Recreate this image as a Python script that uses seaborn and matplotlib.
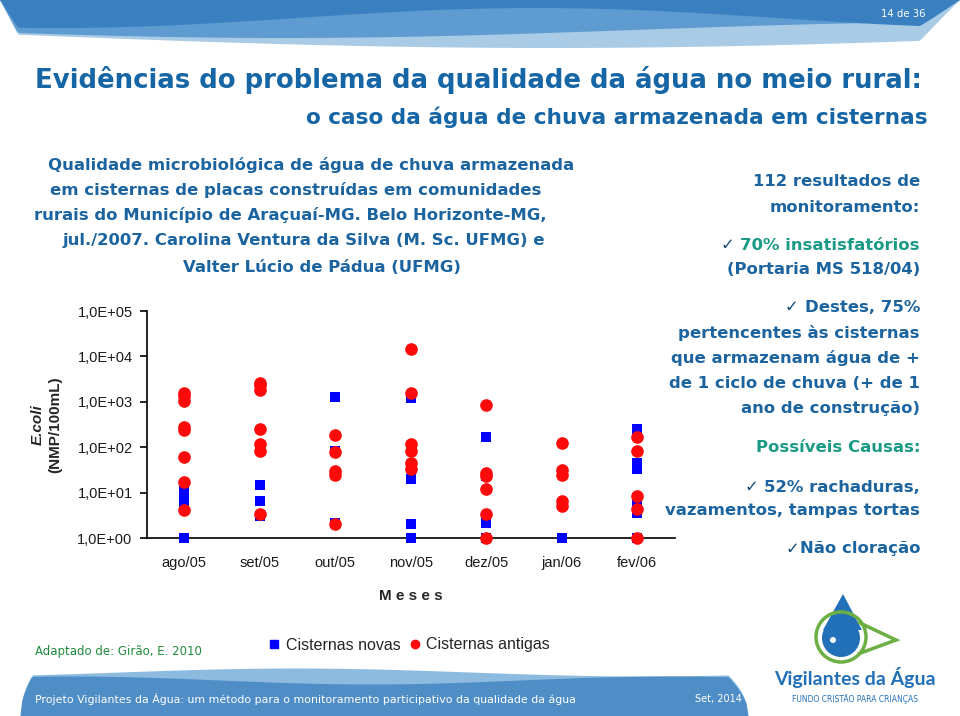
import numpy as np
import pandas as pd
import seaborn as sns
import matplotlib
matplotlib.use('Agg')
import matplotlib.pyplot as plt
from matplotlib import font_manager
from matplotlib.lines import Line2D
from matplotlib.patches import Circle, Polygon
from matplotlib.ticker import FixedLocator, FuncFormatter, NullLocator

# --- data (E. coli, NMP/100mL) ---
months = ['ago/05', 'set/05', 'out/05', 'nov/05', 'dez/05', 'jan/06', 'fev/06']

novas = [
    [13, 9, 6, 1],
    [14.5, 6.5, 3.0],
    [1280, 82, 2.1],
    [1230, 20, 2.0, 1],
    [170, 23, 2.1, 1],
    [1],
    [247, 46, 33, 6.5, 3.6, 1],
]
antigas = [
    [1590, 1340, 1040, 280, 240, 62, 17, 4.1],
    [2650, 2300, 1820, 247, 116, 82, 3.3],
    [182, 78, 30, 24, 2.0],
    [14800, 1590, 116, 82, 46, 33],
    [840, 27.5, 23, 12.3, 3.3, 1],
    [122, 31.5, 25, 6.5, 5.0],
    [170, 82, 8.4, 4.3, 1],
]

left_lines = [
    'Qualidade microbiológica de água de chuva armazenada',
    'em cisternas de placas construídas em comunidades',
    'rurais do Município de Araçuaí-MG. Belo Horizonte-MG,',
    'jul./2007. Carolina Ventura da Silva (M. Sc. UFMG) e',
    'Valter Lúcio de Pádua (UFMG)',
]

BLUE_TXT = '#1b64a0'
TEAL = '#1b9a86'
TITLE_BLUE = '#1666a6'


def to_long(values, kind):
    rows = [(m, v, kind) for m, vals in zip(months, values) for v in vals]
    return pd.DataFrame(rows, columns=['mes', 'valor', 'tipo'])


df_novas = to_long(novas, 'Cisternas novas')
df_antigas = to_long(antigas, 'Cisternas antigas')

sns.set_theme(style='white')
names = {f.name for f in font_manager.fontManager.ttflist}
arial = 'Liberation Sans' if 'Liberation Sans' in names else 'DejaVu Sans'
plt.rcParams['font.family'] = ['DejaVu Sans']

fig = plt.figure(figsize=(9.6, 7.16), dpi=100)
fig.patch.set_facecolor('white')

# background layer in pixel coordinates
bg = fig.add_axes([0, 0, 1, 1], zorder=0)
bg.set_xlim(0, 960)
bg.set_ylim(716, 0)
bg.axis('off')

# top wave banner
xs = np.linspace(0, 960, 400)
edge = np.clip(xs / 18, 0, 1) * np.clip((960 - xs) / 40, 0, 1)
bg.fill_between(xs, 0, (34 + 14 * np.sin(np.pi * xs / 1100)) * edge, color='#a9cbe6', lw=0)
bg.fill_between(xs, 0, (30 + 8 * np.sin(np.pi * xs / 700 + 0.3)) * edge, color='#5d9bd0', lw=0)
bg.fill_between(xs, 0, (18 + 10 * np.sin(np.pi * xs / 480 + 1.2)) * edge, color='#3a80c0', lw=0)
page = bg.text(926, 14, '14 de 36', color='white', fontsize=8, ha='right', va='center')

# bottom wave banner
xb = np.linspace(20, 748, 400)
round_l = np.clip((xb - 20) / 12, 0, 1)
round_r = np.clip((748 - xb) / 20, 0, 1)
h1 = (44 + 4 * np.sin(2 * np.pi * (xb - 120) / 700)) * np.minimum(round_l, round_r) ** 0.5
h2 = (36 + 4 * np.sin(2 * np.pi * (xb + 80) / 600)) * np.minimum(round_l, round_r) ** 0.5
bg.fill_between(xb, 716 - h1, 716, color='#8dbbe0', lw=0)
bg.fill_between(xb, 716 - h2, 716, color='#4f8dc6', lw=0)
footer = bg.text(35, 699, 'Projeto Vigilantes da Água: um método para o monitoramento participativo da qualidade da água',
                 color='white', fontsize=9, ha='left', va='center')
date = bg.text(742, 699, 'Set, 2014', color='white', fontsize=9, ha='right', va='center')

# logo
bg.add_patch(Polygon([[843, 594], [823, 630], [862, 630]], closed=True, color='#2270b8', lw=0))
bg.add_patch(Circle((841, 638), 19, color='#2270b8', lw=0))
bg.add_patch(Circle((833, 640), 3, color='white', lw=0))
bg.add_patch(Circle((841, 637), 25, fill=False, ec='#6cb043', lw=2.5))
bg.add_patch(Polygon([[858, 622], [896, 640], [858, 654]], closed=False, fill=False, ec='#6cb043', lw=2.5))
bg.text(855, 678, 'Vigilantes da Água', color='#2270b8', fontsize=14, fontweight='bold',
        ha='center', va='center', family='Lato')
bg.text(855, 699, 'FUNDO CRISTÃO PARA CRIANÇAS', color='#2270b8', fontsize=5.5,
        ha='center', va='center', family='DejaVu Sans')

# titles
title = bg.text(35, 80, 'Evidências do problema da qualidade da água no meio rural:', color=TITLE_BLUE,
                fontsize=24, fontweight='bold', ha='left', va='center')
subtitle = bg.text(928, 117, 'o caso da água de chuva armazenada em cisternas', color=TITLE_BLUE,
                   fontsize=17, fontweight='bold', ha='right', va='center')

# left text block
left_centers = [311, 296, 290, 304, 322]
left_y = [165, 190, 215, 240, 267]
left_txt = [bg.text(cx, cy, s, color=BLUE_TXT, fontsize=12, fontweight='bold', ha='center', va='center')
            for s, cx, cy in zip(left_lines, left_centers, left_y)]

# right text block (right aligned)
rx = 920
right_items = [
    (182, [('112 resultados de', BLUE_TXT)]),
    (207, [('monitoramento:', BLUE_TXT)]),
    (245, [('✓ ', '#1a4d7a'), ('70% insatisfatórios', TEAL)]),
    (270, [('(Portaria MS 518/04)', BLUE_TXT)]),
    (308, [('✓ ', '#1a4d7a'), ('Destes, 75%', BLUE_TXT)]),
    (333, [('pertencentes às cisternas', BLUE_TXT)]),
    (358, [('que armazenam água de +', BLUE_TXT)]),
    (383, [('de 1 ciclo de chuva (+ de 1', BLUE_TXT)]),
    (408, [('ano de construção)', BLUE_TXT)]),
    (448, [('Possíveis Causas:', TEAL)]),
    (487, [('✓ ', '#1a4d7a'), ('52% rachaduras,', BLUE_TXT)]),
    (511, [('vazamentos, tampas tortas', BLUE_TXT)]),
    (549, [('✓', '#1a4d7a'), ('Não cloração', BLUE_TXT)]),
]

source = bg.text(35, 652, 'Adaptado de: Girão, E. 2010', color='#1f8a3c', fontsize=10,
                 ha='left', va='center')

# fit font sizes to the widths in the reference
fig.canvas.draw()
r = fig.canvas.get_renderer()


def fit(t, width):
    for _ in range(3):
        w = t.get_window_extent(r).width
        t.set_fontsize(t.get_fontsize() * width / w)
    return t.get_fontsize()


fit(title, 893)
fit(subtitle, 928 - 308)
fit(footer, 545)
fit(date, 47)
fit(source, 167)
fit(page, 45)
fs_left = fit(left_txt[0], 525)
for t in left_txt:
    t.set_fontsize(fs_left)

for y, parts in right_items:
    x = rx
    for s, c in reversed(parts):
        t = bg.text(x, y, s, color=c, fontsize=fs_left, fontweight='bold', ha='right', va='center')
        x -= t.get_window_extent(r).width

# --- chart ---
ax = fig.add_axes([146.5 / 960, (716 - 538) / 716, 528.5 / 960, 227 / 716], zorder=2)
ax.patch.set_alpha(0)
sns.stripplot(data=df_novas, x='mes', y='valor', order=months, jitter=False, marker='s',
              color='#0000ff', size=7.7, linewidth=0, ax=ax, zorder=3, clip_on=False)
sns.stripplot(data=df_antigas, x='mes', y='valor', order=months, jitter=False, marker='o',
              color='#ff0a0a', size=9.1, linewidth=0, ax=ax, zorder=4, clip_on=False)
ax.set_yscale('log')
ax.set_ylim(1, 1e5)
ax.set_xlim(-0.5, 6.5)
ax.yaxis.set_major_locator(FixedLocator([1, 10, 100, 1e3, 1e4, 1e5]))
ax.yaxis.set_minor_locator(NullLocator())
ax.yaxis.set_major_formatter(FuncFormatter(lambda v, p: '1,0E+%02d' % round(np.log10(v))))
ax.xaxis.set_minor_locator(FixedLocator(np.arange(0.5, 7, 1)))
for s in ['top', 'right']:
    ax.spines[s].set_visible(False)
for s in ['left', 'bottom']:
    ax.spines[s].set_color('black')
    ax.spines[s].set_linewidth(1.2)
ax.tick_params(axis='x', which='major', length=0, pad=13, labelsize=10.5)
ax.tick_params(axis='x', which='minor', length=5, width=1.2, color='black', direction='out')
ax.tick_params(axis='y', which='major', length=5, width=1.2, color='black', direction='out',
               left=True, pad=5, labelsize=10.5)
for lab in ax.get_xticklabels() + ax.get_yticklabels():
    lab.set_family(arial)
    lab.set_color('#1a1a1a')
ax.set_xlabel('M e s e s', fontsize=11, fontweight='bold', family=arial, labelpad=14)
ax.set_ylabel('')

bg.text(38, 425, 'E.coli', rotation=90, fontsize=11, fontweight='bold', style='italic',
        family=arial, ha='center', va='center')
bg.text(55, 425, '(NMP/100mL)', rotation=90, fontsize=11, fontweight='bold',
        family=arial, ha='center', va='center')

handles = [
    Line2D([], [], marker='s', ls='', color='#0000ff', markersize=6),
    Line2D([], [], marker='o', ls='', color='#ff0a0a', markersize=6),
]
fig.legend(handles, ['Cisternas novas', 'Cisternas antigas'], loc='center',
           bbox_to_anchor=(408 / 960, 1 - 645 / 716), ncol=2, frameon=False,
           handletextpad=0.2, columnspacing=0.4, handlelength=1.0,
           prop={'family': arial, 'size': 11.5})

fig.savefig('out.png', dpi=100)
